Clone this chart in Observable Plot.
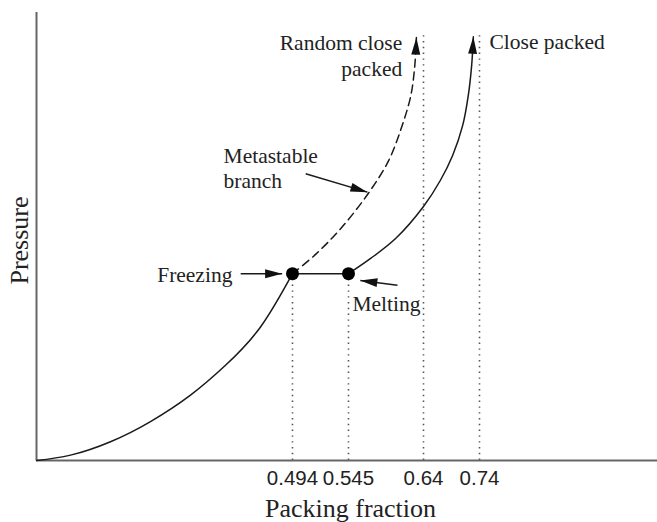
<!DOCTYPE html>
<html>
<head>
<meta charset="utf-8">
<script src="https://cdn.jsdelivr.net/npm/d3@7"></script>
<script src="https://cdn.jsdelivr.net/npm/@observablehq/plot@0.6"></script>
<style>
  html, body { margin: 0; padding: 0; background: #fff; }
  #chart svg { display: block; overflow: visible; }
</style>
</head>
<body>
<div id="chart"></div>
<script>
// ---- data (schematic) ----
const tickValues = [0.494, 0.545, 0.64, 0.74];
const tickLabels = ["0.494", "0.545", "0.64", "0.74"];

// fluid branch (stable), from origin to freezing point
const fluidPhi = [0, 0.0656, 0.1428, 0.220, 0.2972, 0.3647, 0.4323, 0.494];
const fluidP   = [0, 0.012, 0.042, 0.087, 0.146, 0.2125, 0.298, 0.417];

// metastable fluid branch (dashed) to random close packing
const metaPhi = [0.494, 0.515, 0.538, 0.570, 0.596, 0.613, 0.624, 0.629, 0.631];
const metaP   = [0.417, 0.460, 0.518, 0.596, 0.670, 0.748, 0.815, 0.882, 0.944];

// crystal branch from melting to close packing
const solidPhi = [0.545, 0.573, 0.605, 0.640, 0.670, 0.692, 0.710, 0.720, 0.726, 0.729];
const solidP   = [0.417, 0.451, 0.496, 0.567, 0.625, 0.681, 0.748, 0.815, 0.882, 0.946];

// coexistence (freezing / melting)
const transitionPhi = [0.494, 0.545];
const transitionP = [0.417, 0.417];

// dotted guide lines
const guidePhi = [0.494, 0.545, 0.64, 0.74];
const guideTopP = [0.417, 0.417, 0.956, 0.956];

// annotation labels
const labelTexts = ["Random close\npacked", "Close packed", "Metastable\nbranch", "Freezing", "Melting"];
const labelPhi = [0.613, 0.7546, 0.361, 0.378, 0.550];
const labelP   = [0.905, 0.935, 0.654, 0.414, 0.350];
const labelAnchor = ["end", "start", "start", "end", "start"];
const labelLineHeight = [1.21, 1, 1.14, 1, 1];

// annotation arrows
const arrowFromPhi = [0.394, 0.607, 0.506];
const arrowFromP   = [0.417, 0.391, 0.640];
const arrowToPhi   = [0.474, 0.560, 0.569];
const arrowToP     = [0.417, 0.402, 0.599];

// ---- build tables ----
const pts = (xs, ys) => xs.map((x, i) => ({phi: x, p: ys[i]}));
const fluid = pts(fluidPhi, fluidP);
const meta = pts(metaPhi, metaP);
const solid = pts(solidPhi, solidP);
const transition = pts(transitionPhi, transitionP);
const guides = guidePhi.map((x, i) => ({phi: x, top: guideTopP[i]}));
const arrows = arrowFromPhi.map((x, i) => ({x1: x, y1: arrowFromP[i], x2: arrowToPhi[i], y2: arrowToP[i]}));
const tickLabelOf = new Map(tickValues.map((v, i) => [v, tickLabels[i]]));

function filledArrow() {
  const ns = "http://www.w3.org/2000/svg";
  const m = document.createElementNS(ns, "marker");
  m.setAttribute("viewBox", "-18 -5 18 10");
  m.setAttribute("markerWidth", 18);
  m.setAttribute("markerHeight", 10);
  m.setAttribute("markerUnits", "userSpaceOnUse");
  m.setAttribute("refX", 0);
  m.setAttribute("refY", 0);
  m.setAttribute("orient", "auto");
  m.setAttribute("overflow", "visible");
  const path = document.createElementNS(ns, "path");
  path.setAttribute("d", "M0,0L-17,-4.5L-17,4.5Z");
  path.setAttribute("fill", "#111");
  path.setAttribute("stroke", "none");
  path.setAttribute("stroke-dasharray", "none");
  m.appendChild(path);
  return m;
}

const serif = "'Liberation Serif', 'Times New Roman', serif";
const sans = "'Liberation Sans', Arial, Helvetica, sans-serif";

const labelMarks = labelTexts.map((t, i) => Plot.text([t], {
  x: () => labelPhi[i], y: () => labelP[i], text: d => d,
  textAnchor: labelAnchor[i], lineHeight: labelLineHeight[i],
  fontFamily: serif, fontSize: 21.5, fill: "#222"
}));

const chart = Plot.plot({
  width: 657,
  height: 522,
  marginLeft: 36,
  marginRight: 0,
  marginTop: 12,
  marginBottom: 62,
  style: {background: "#fff", overflow: "visible"},
  x: {type: "linear", domain: [0, 0.494, 0.545, 0.64, 0.74, 1], range: [36, 292, 348, 423, 479, 657], axis: null},
  y: {domain: [0, 1], axis: null},
  marks: [
    // dotted guides
    Plot.ruleX(guides, {x: "phi", y1: 0, y2: "top", stroke: "#555", strokeWidth: 1.6, strokeDasharray: "1.4,4.4"}),
    // axes lines
    Plot.ruleY([0], {stroke: "#666", strokeWidth: 2}),
    Plot.ruleX([0], {y1: 0, y2: 1, stroke: "#666", strokeWidth: 2}),
    // curves
    Plot.line(fluid, {x: "phi", y: "p", curve: "natural", stroke: "#1a1a1a", strokeWidth: 1.5}),
    Plot.line(meta, {x: "phi", y: "p", curve: "catmull-rom", stroke: "#1a1a1a", strokeWidth: 1.5, strokeDasharray: "8,5", markerEnd: filledArrow}),
    Plot.line(solid, {x: "phi", y: "p", curve: "catmull-rom", stroke: "#1a1a1a", strokeWidth: 1.5, markerEnd: filledArrow}),
    Plot.line(transition, {x: "phi", y: "p", stroke: "#1a1a1a", strokeWidth: 1.5}),
    Plot.dot(transition, {x: "phi", y: "p", r: 6.5, fill: "#000", stroke: "none"}),
    // annotation arrows
    Plot.link(arrows, {x1: "x1", y1: "y1", x2: "x2", y2: "y2", stroke: "#1a1a1a", strokeWidth: 1.5, markerEnd: filledArrow}),
    // tick labels
    Plot.axisX({ticks: tickValues, tickFormat: d => tickLabelOf.get(d), tickSize: 0, tickPadding: 10,
      fontSize: 20.5, fontFamily: sans, fill: "#222", label: null}),
    // axis titles
    Plot.text(["Packing fraction"], {frameAnchor: "bottom", lineAnchor: "bottom", textAnchor: "middle", dy: 56, dx: 3.5,
      fontFamily: serif, fontSize: 26, fill: "#222"}),
    Plot.text(["Pressure"], {frameAnchor: "left", lineAnchor: "bottom", textAnchor: "middle", rotate: -90, dx: -9, dy: 4,
      fontFamily: serif, fontSize: 26, fill: "#222"}),
    ...labelMarks
  ]
});

document.getElementById("chart").appendChild(chart);
</script>
</body>
</html>
